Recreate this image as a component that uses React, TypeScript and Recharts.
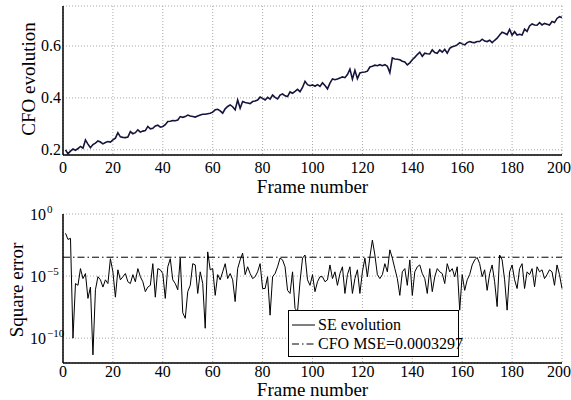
import React from 'react';
import {
  LineChart,
  Line,
  XAxis,
  YAxis,
  CartesianGrid,
  ReferenceLine,
  Legend,
  Label,
} from 'recharts';

// frame index 1..200
const frames: number[] = Array.from({ length: 200 }, (_, i) => i + 1);

// CFO estimate per frame
const cfoValues: number[] = [
  0.200, 0.185, 0.195, 0.203, 0.198, 0.205, 0.213, 0.206, 0.238, 0.222,
  0.208, 0.220, 0.226, 0.234, 0.230, 0.223, 0.228, 0.232, 0.230, 0.238,
  0.245, 0.266, 0.250, 0.248, 0.247, 0.249, 0.270, 0.262, 0.266, 0.277,
  0.268, 0.272, 0.274, 0.290, 0.281, 0.283, 0.292, 0.295, 0.287, 0.290,
  0.297, 0.309, 0.310, 0.313, 0.312, 0.315, 0.328, 0.325, 0.328, 0.334,
  0.330, 0.328, 0.326, 0.330, 0.334, 0.337, 0.337, 0.339, 0.341, 0.345,
  0.354, 0.356, 0.350, 0.341, 0.358, 0.367, 0.373, 0.366, 0.354, 0.392,
  0.360, 0.386, 0.382, 0.380, 0.378, 0.386, 0.388, 0.392, 0.403, 0.398,
  0.392, 0.402, 0.395, 0.411, 0.402, 0.396, 0.411, 0.415, 0.408, 0.405,
  0.423, 0.418, 0.425, 0.433, 0.424, 0.440, 0.464, 0.451, 0.447, 0.450,
  0.445, 0.451, 0.444, 0.458, 0.448, 0.435, 0.457, 0.473, 0.470, 0.473,
  0.477, 0.481, 0.478, 0.490, 0.511, 0.472, 0.506, 0.474, 0.496, 0.499,
  0.500, 0.503, 0.519, 0.522, 0.526, 0.524, 0.528, 0.524, 0.528, 0.522,
  0.497, 0.554, 0.550, 0.549, 0.547, 0.541, 0.538, 0.527, 0.535, 0.547,
  0.556, 0.567, 0.576, 0.560, 0.572, 0.570, 0.569, 0.585, 0.575, 0.572,
  0.585, 0.576, 0.587, 0.572, 0.591, 0.597, 0.600, 0.604, 0.613, 0.608,
  0.604, 0.613, 0.617, 0.614, 0.613, 0.617, 0.617, 0.626, 0.619, 0.617,
  0.622, 0.613, 0.622, 0.630, 0.642, 0.653, 0.649, 0.644, 0.664, 0.642,
  0.655, 0.642, 0.645, 0.642, 0.665, 0.656, 0.677, 0.685, 0.681, 0.680,
  0.690, 0.681, 0.687, 0.684, 0.681, 0.694, 0.690, 0.706, 0.713, 0.710,
];

// square error per frame (bottom panel, log scale)
const seValues: number[] = [
  2.8e-2, 8.9e-3, 1.1e-2, 1e-10, 2.5e-6, 1.8e-6, 4.0e-5, 6.3e-6, 1.6e-5, 1.6e-7,
  1.3e-6, 4.5e-12, 7.9e-7, 8.9e-6, 5.0e-6, 1.3e-6, 5.0e-6, 2.5e-6, 2.5e-4, 2.2e-5,
  2.0e-7, 3.2e-5, 5.0e-6, 8.9e-6, 1.6e-5, 3.5e-6, 2.5e-6, 1.3e-5, 3.5e-6, 4.0e-5,
  8.9e-6, 3.5e-6, 5.6e-7, 1.3e-6, 1.8e-6, 1.0e-4, 2.0e-7, 4.0e-5, 3.2e-5, 1.6e-5,
  1.6e-7, 5.6e-5, 2.5e-4, 5.0e-6, 2.5e-6, 7.9e-7, 2.8e-4, 1.1e-8, 4.0e-9, 5.6e-7,
  1.8e-6, 1.0e-4, 7.9e-5, 4.0e-7, 2.2e-5, 2.5e-6, 6.3e-10, 8.9e-4, 3.2e-5, 4.0e-5,
  2.8e-7, 1.3e-5, 5.0e-6, 2.2e-5, 1.0e-4, 6.3e-6, 1.6e-5, 5.0e-6, 8.9e-8, 4.0e-5,
  2.0e-4, 7.1e-4, 1.3e-5, 5.6e-5, 1.6e-5, 6.3e-6, 8.9e-6, 2.2e-5, 1.0e-4, 1.0e-6,
  1.0e-6, 8.9e-6, 7.1e-9, 8.9e-6, 1.6e-5, 5.6e-5, 2.8e-4, 2.0e-4, 5.6e-5, 7.1e-7,
  4.0e-7, 2.2e-5, 2.5e-8, 1.3e-8, 3.5e-6, 2.8e-4, 5.0e-4, 5.0e-6, 1.8e-6, 1.3e-5,
  5.6e-7, 3.5e-6, 8.9e-6, 8.9e-6, 3.5e-6, 5.0e-6, 7.9e-5, 6.3e-6, 2.2e-5, 1.8e-6,
  1.6e-5, 5.6e-5, 4.0e-7, 1.3e-5, 5.6e-5, 4.0e-7, 6.3e-6, 3.2e-5, 4.0e-7, 2.2e-5,
  2.8e-4, 8.9e-6, 3.5e-4, 7.9e-3, 5.0e-4, 1.3e-5, 6.3e-6, 1.3e-5, 1.0e-4, 2.2e-5,
  1.3e-3, 2.8e-4, 4.0e-5, 6.3e-6, 2.8e-7, 2.2e-5, 4.0e-5, 1.8e-6, 2.0e-4, 2.8e-7,
  2.2e-5, 5.6e-5, 7.9e-5, 1.6e-5, 6.3e-6, 4.0e-7, 4.0e-5, 5.6e-7, 8.9e-6, 4.0e-5,
  2.2e-5, 1.6e-5, 2.5e-6, 1.0e-4, 2.2e-5, 4.0e-5, 8.9e-6, 5.6e-5, 1.8e-8, 1.3e-5,
  7.1e-7, 5.0e-6, 1.3e-5, 7.9e-5, 2.0e-4, 3.2e-4, 1.0e-4, 8.9e-6, 3.2e-5, 7.1e-7,
  1.6e-5, 7.9e-5, 3.5e-6, 3.5e-8, 5.0e-4, 2.0e-4, 5.0e-6, 1.8e-8, 2.2e-5, 7.9e-5,
  5.0e-6, 1.0e-6, 4.0e-5, 1.0e-4, 1.0e-6, 2.2e-5, 1.3e-5, 4.0e-5, 1.4e-6, 5.6e-5,
  2.2e-5, 3.2e-5, 6.3e-6, 1.3e-5, 3.2e-5, 2.2e-5, 1.8e-6, 7.9e-5, 1.3e-5, 1.0e-6,
];

const cfoMse = 0.0003297;

const xTicks = [0, 20, 40, 60, 80, 100, 120, 140, 160, 180, 200];
const cfoTicks = [0.2, 0.4, 0.6];
const seTicks = [1e-10, 1e-5, 1];
const seExponents: Record<string, string> = { '1': '0', '0.00001': '\u22125', '1e-10': '\u221210' };

const FONT = '"Liberation Serif", "Times New Roman", serif';
const GRID = '#a8a8a8';
const serif = { fontFamily: FONT };

const data = frames.map((f, i) => ({ frame: f, cfo: cfoValues[i], se: seValues[i] }));

function XTick(props: any) {
  const { x, y, payload, shift } = props;
  return (
    <text x={x} y={y + shift} textAnchor="middle" fontFamily={FONT} style={serif} fontSize={16} fill="#000">
      {payload.value}
    </text>
  );
}

function CfoTick(props: any) {
  const { y, payload } = props;
  return (
    <text x={61} y={y + 5.5} textAnchor="end" fontFamily={FONT} style={serif} fontSize={16} fill="#000">
      {Number(payload.value).toFixed(1)}
    </text>
  );
}

function PowerTick(props: any) {
  const { y, payload } = props;
  const exp = seExponents[String(payload.value)] ?? '';
  return (
    <text x={30} y={y + 5.5} fontFamily={FONT} style={serif} fontSize={16} fill="#000">
      <tspan>10</tspan>
      <tspan dx={1} dy={-7} fontSize={11}>{exp}</tspan>
    </text>
  );
}

function YTitle({ x, y, text }: { x: number; y: number; text: string }) {
  return (
    <text
      x={x}
      y={y}
      transform={`rotate(-90 ${x} ${y})`}
      textAnchor="middle"
      dominantBaseline="central"
      fontFamily={FONT}
      style={serif}
      fontSize={19}
      fill="#000"
    >
      {text}
    </text>
  );
}

function LegendBox() {
  const row = {
    position: 'absolute' as const,
    left: 3,
    display: 'flex',
    alignItems: 'center',
    lineHeight: '18px',
    whiteSpace: 'nowrap' as const,
  };
  return (
    <div
      style={{
        width: 171,
        height: 47,
        boxSizing: 'border-box',
        border: '1.5px solid #000',
        background: '#fff',
        fontFamily: FONT,
        fontSize: 16,
        color: '#000',
        position: 'relative',
      }}
    >
      <div style={{ ...row, top: 5 }}>
        <svg width={24} height={10} style={{ flexShrink: 0 }}>
          <line x1={0} y1={5} x2={23} y2={5} stroke="#000" strokeWidth={1} />
        </svg>
        <span style={{ marginLeft: 2 }}>SE evolution</span>
      </div>
      <div style={{ ...row, top: 24 }}>
        <svg width={24} height={10} style={{ flexShrink: 0 }}>
          <line x1={0} y1={5} x2={23} y2={5} stroke="#000" strokeWidth={1} strokeDasharray="7 3 1.5 3" />
        </svg>
        <span style={{ marginLeft: 2 }}>CFO MSE=0.0003297</span>
      </div>
    </div>
  );
}

export default function App() {
  return (
    <div style={{ position: 'absolute', left: 0, top: 0, width: 571, height: 400, background: '#fff', fontFamily: FONT }}>
      <div style={{ position: 'absolute', left: 0, top: 0 }}>
        <LineChart width={571} height={200} data={data} margin={{ top: 6, right: 9, left: 0, bottom: 0 }} style={serif}>
          <CartesianGrid stroke={GRID} strokeDasharray="1 2" />
          <XAxis
            dataKey="frame"
            type="number"
            domain={[0, 200]}
            ticks={xTicks}
            height={45}
            tickLine={false}
            tickSize={0}
            tick={<XTick shift={16} />}
            axisLine={{ stroke: '#000', strokeWidth: 1.5 }}
          >
            <Label value="Frame number" position="insideBottom" offset={7} fontFamily={FONT} fontSize={19} fill="#000" />
          </XAxis>
          <XAxis xAxisId="top" orientation="top" type="number" domain={[0, 200]} height={0} tick={false} tickLine={false} axisLine={{ stroke: '#000', strokeWidth: 1.5 }} />
          <YAxis
            type="number"
            domain={[0.18, 0.754]}
            ticks={cfoTicks}
            width={63}
            tickLine={false}
            tickSize={0}
            tick={<CfoTick />}
            axisLine={{ stroke: '#000', strokeWidth: 1.5 }}
            allowDataOverflow
            label={{ content: () => <YTitle x={28} y={79} text="CFO evolution" /> }}
          />
          <YAxis yAxisId="right" orientation="right" type="number" domain={[0, 1]} width={0} tick={false} tickLine={false} axisLine={{ stroke: '#000', strokeWidth: 1.5 }} />
          <Line type="linear" dataKey="cfo" stroke="#14143c" strokeWidth={1.6} dot={false} isAnimationActive={false} />
        </LineChart>
      </div>
      <div style={{ position: 'absolute', left: 0, top: 200 }}>
        <LineChart width={571} height={200} data={data} margin={{ top: 14, right: 9, left: 0, bottom: 0 }} style={serif}>
          <CartesianGrid stroke={GRID} strokeDasharray="1 2" />
          <XAxis
            dataKey="frame"
            type="number"
            domain={[0, 200]}
            ticks={xTicks}
            height={37}
            tickLine={false}
            tickSize={0}
            tick={<XTick shift={12} />}
            axisLine={{ stroke: '#000', strokeWidth: 1.5 }}
          >
            <Label value="Frame number" position="insideBottom" offset={4} fontFamily={FONT} fontSize={19} fill="#000" />
          </XAxis>
          <XAxis xAxisId="top" orientation="top" type="number" domain={[0, 200]} height={0} tick={false} tickLine={false} axisLine={{ stroke: '#000', strokeWidth: 2 }} />
          <YAxis
            type="number"
            scale="log"
            domain={[1e-12, 1]}
            ticks={seTicks}
            width={63}
            tickLine={false}
            tick={<PowerTick />}
            axisLine={{ stroke: '#000', strokeWidth: 1.5 }}
            allowDataOverflow
            label={{ content: () => <YTitle x={16} y={90} text="Square error" /> }}
          />
          <YAxis yAxisId="right" orientation="right" type="number" domain={[0, 1]} width={0} tick={false} tickLine={false} axisLine={{ stroke: '#000', strokeWidth: 1.5 }} />
          <ReferenceLine y={cfoMse} stroke="#000" strokeWidth={1} strokeDasharray="7 3 1.5 3" />
          <Line type="linear" dataKey="se" stroke="#000" strokeWidth={1} dot={false} isAnimationActive={false} />
          <Legend
            layout="horizontal"
            verticalAlign="middle"
            align="center"
            content={() => <LegendBox />}
            wrapperStyle={{ position: 'absolute', left: 288, top: 110, width: 171, height: 47 }}
          />
        </LineChart>
      </div>
    </div>
  );
}
